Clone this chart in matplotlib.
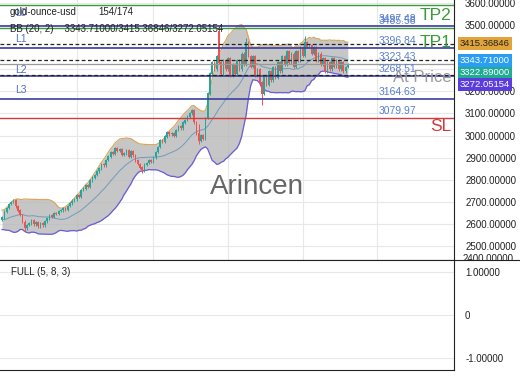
import matplotlib
matplotlib.use('Agg')
import matplotlib.pyplot as plt
from matplotlib.transforms import Bbox, TransformedBbox
import numpy as np
import pandas as pd

plt.rcParams['font.family'] = ['Liberation Sans', 'DejaVu Sans']

# 20 bars of history (off screen) + 154 visible bars
history = [2660, 2640, 2610, 2590, 2620, 2650, 2630, 2600, 2580, 2610,
           2640, 2660, 2620, 2590, 2600, 2630, 2650, 2610, 2595, 2620]
closes = [2630, 2655, 2672, 2690, 2700, 2707, 2680, 2660, 2640, 2610,
          2580, 2595, 2602, 2615, 2598, 2608, 2590, 2605, 2594, 2612,
          2625, 2640, 2632, 2650, 2645, 2658, 2662, 2670, 2665, 2682,
          2694, 2705, 2712, 2730, 2722, 2753, 2760, 2775, 2768, 2798,
          2810, 2822, 2838, 2852, 2870, 2865, 2890, 2905, 2925, 2918,
          2943, 2930, 2938, 2912, 2920, 2935, 2905, 2928, 2910, 2888,
          2872, 2855, 2843, 2868, 2875, 2888, 2880, 2902, 2925, 2948,
          2980, 2972, 2995, 3015, 3005, 3010, 2998, 3025, 3040, 3032,
          3058, 3070, 3085, 3100, 3115, 3060, 3010, 2975, 3000, 2985,
          3080, 3190, 3280, 3330, 3300, 3360, 3330, 3280, 3340, 3300,
          3350, 3270, 3320, 3280, 3340, 3300, 3370, 3320, 3420, 3360,
          3310, 3360, 3270, 3300, 3240, 3190, 3270, 3230, 3290, 3250,
          3310, 3260, 3330, 3290, 3360, 3320, 3380, 3330, 3370, 3310,
          3380, 3340, 3400, 3360, 3420, 3400, 3410, 3370, 3400, 3340,
          3370, 3320, 3350, 3290, 3330, 3300, 3350, 3310, 3340, 3300,
          3330, 3290, 3310, 3323]
open_overrides = {96: 3470}
high_spikes = {96: 3490, 108: 3440, 134: 3450, 87: 3050}
low_spikes = {115: 3137, 87: 2960, 10: 2565, 62: 2830}

levels = {'L0': 3497.48, 'L1': 3396.84, 'L2': 3268.51, 'L3': 3164.63}
tp_levels = {'TP2': 3485.58, 'TP1': 3396.84}
top_green = 3592
sl_level = 3079.97
at_price = 3323.43
bb_vals = [3343.71000, 3415.36846, 3272.05154]
last_price = 3322.89000

allc = np.array(history + closes, dtype=float)
s = pd.Series(allc)
mid = s.rolling(20).mean().values[20:]
sd = s.rolling(20).std(ddof=0).values[20:]
upper = mid + 2 * sd
lower = mid - 2 * sd

c = np.array(closes, dtype=float)
o = np.concatenate([[history[-1]], c[:-1]])
for k, v in open_overrides.items():
    o[k] = v
x = np.arange(len(c))
hi = np.maximum(o, c) + 6
lo = np.minimum(o, c) - 6
for k, v in high_spikes.items():
    hi[k] = v
for k, v in low_spikes.items():
    lo[k] = v
up = c >= o
col = np.where(up, '#26a69a', '#ef5350')

fig = plt.figure(figsize=(5.2, 3.9), dpi=100)
ax = fig.add_axes([0.0, 1 - 260 / 390, 454 / 520, 260 / 390])
ax2 = fig.add_axes([0.0, 1 - 370 / 390, 454 / 520, 110 / 390])

ylo, yhi = 2437, 3613
ax.set_ylim(ylo, yhi)
ax.set_xlim(-0.9, 200)

# bollinger band
ax.fill_between(x, lower, upper, color='#b4b4b4', alpha=0.75, lw=0, zorder=1)
ax.plot(x, upper, color='#d9a860', lw=0.9, zorder=2)
ax.plot(x, lower, color='#6a5ed8', lw=0.9, zorder=2)
ax.plot(x, mid, color='#6f9bc0', lw=0.7, zorder=2)

# candles
ax.vlines(x, lo, hi, colors=col, lw=0.7, zorder=3)
ax.bar(x, np.abs(c - o) + 1, bottom=np.minimum(o, c), width=0.7, color=col, zorder=3)

# level lines
ax.axhline(top_green, color='#3c9a3c', lw=1.0, zorder=4)
for name, v in levels.items():
    ax.axhline(v, color='#3a3fa0', lw=1.2, zorder=4)
ax.axhline(tp_levels['TP2'], color='#3c9a3c', lw=1.0, zorder=4)
ax.axhline(sl_level, color='#d23c3c', lw=1.0, zorder=4)
ax.axhline(at_price, color='#999999', lw=0.9, zorder=4)
for v in bb_vals:
    ax.axhline(v, color='#222222', lw=0.9, ls=(0, (3, 2)), zorder=5)

# level texts
ax.text(6, 3554, 'L0', color='#5470c6', fontsize=7.5, va='center', zorder=6)
ax.text(6, 3437, 'L1', color='#5470c6', fontsize=7.5, va='center', zorder=6)
ax.text(6, 3297, 'L2', color='#5470c6', fontsize=7.5, va='center', zorder=6)
ax.text(6, 3207, 'L3', color='#5470c6', fontsize=7.5, va='center', zorder=6)
lbl_x = 166.5
for v in [3497.48, 3485.58, 3396.84, at_price, 3268.51, 3164.63, sl_level]:
    ax.text(lbl_x, v + 8, f'{v:.2f}', color='#5a7fd0', fontsize=7.5, va='bottom', zorder=6)
ax.text(173, 3261, 'At Price', color='#9a9a9a', fontsize=12, va='center', zorder=6)
ax.text(199, 3542, 'TP2', color='#3c9a3c', fontsize=12.5, ha='right', va='center', zorder=6)
ax.text(199, 3423, 'TP1', color='#3c9a3c', fontsize=12.5, ha='right', va='center', zorder=6)
ax.text(199, 3040, 'SL', color='#d23c3c', fontsize=12.5, ha='right', va='center', zorder=6)
ax.text(113, 2765, 'Arincen', color='#666666', fontsize=20, ha='center', va='center', zorder=6)

ax.text(3.5, 3559, 'gold-ounce-usd', fontsize=7, color='#222222', va='center', zorder=7)
ax.text(42.5, 3559, '154/174', fontsize=7, color='#222222', va='center', zorder=7)
ax.text(3.5, 3482, 'BB (20, 2)    3343.71000/3415.36846/3272.05154', fontsize=7,
        color='#222222', va='center', zorder=7)

# axes styling
yt = np.arange(2500, 3700, 100)
grid_x = [33, 67, 100, 133, 166]
ax.set_xticks(grid_x)
ax.set_xticklabels([])
ax.set_yticks(yt)
ax.set_yticklabels(['' if t in (3300, 3400) else f'{t:.5f}' for t in yt])
ax.yaxis.tick_right()
ax.tick_params(axis='y', length=0, labelsize=7, pad=8, colors='#222222')
ax.tick_params(axis='x', length=0)
ax.grid(True, color='#e8e8e8', lw=0.8, zorder=0)
ax.set_axisbelow(True)
for sp in ['left', 'top']:
    ax.spines[sp].set_visible(False)
ax.spines['right'].set_color('#222222')
ax.spines['bottom'].set_color('#222222')

# 2400 label, half hidden under the pane border
t24 = ax.text(1.0 + 9 / 454, 2440, '2400.00000', transform=ax.get_yaxis_transform(),
              fontsize=7, color='#222222', va='center', ha='left', clip_on=True)
t24.set_clip_box(TransformedBbox(Bbox([[0, 1 - 260 / 390], [1, 1]]), fig.transFigure))
fig.add_artist(plt.Line2D([0, 1], [1 - 260 / 390, 1 - 260 / 390], color='#222222', lw=0.8,
                          transform=fig.transFigure))

boxes = [(3415.36846, '#e0a43a', '#222222'), (3343.71000, '#2a9df4', 'white'),
         (3322.89000, '#22ab94', 'white'), (3272.05154, '#5b3cdc', 'white')]
offs = [0, -3, -40, -43]
for (v, fc, tc), d in zip(boxes, offs):
    ax.text(1.013, (v + d - ylo) / (yhi - ylo), f'{v:.5f}', transform=ax.transAxes,
            fontsize=6.8, color=tc, va='center', ha='left', zorder=10, clip_on=False,
            bbox=dict(boxstyle='square,pad=0.2', fc=fc, ec='none'))

# lower pane
ax2.set_ylim(-1.28, 1.28)
ax2.set_xlim(-0.9, 200)
ax2.set_yticks([1, 0, -1])
ax2.set_yticklabels(['1.00000', '0', '-1.00000'])
ax2.yaxis.tick_right()
ax2.tick_params(axis='y', length=0, labelsize=7, pad=8, colors='#222222')
ax2.set_xticks([])
ax2.grid(True, axis='y', color='#e8e8e8', lw=0.8)
for sp in ['left', 'top']:
    ax2.spines[sp].set_visible(False)
ax2.spines['right'].set_color('#222222')
ax2.spines['bottom'].set_color('#222222')
ax2.text(4, 1.0, 'FULL (5, 8, 3)', fontsize=7, color='#222222', va='center')

fig.savefig('out.png', dpi=100)
